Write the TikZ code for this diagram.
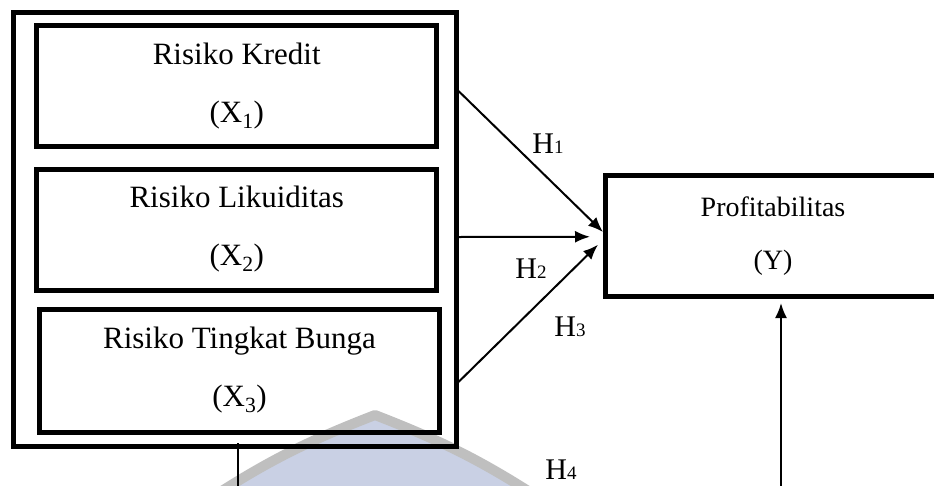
\documentclass[tikz,border=0pt]{standalone}
\usepackage{fontspec}
\setmainfont{Liberation Serif}
\usetikzlibrary{arrows.meta,calc}
\definecolor{wmblue}{HTML}{C9D0E4}
\definecolor{wmgray}{HTML}{BFBFBF}
\newcommand\hsub[1]{{\fontsize{19}{19}\selectfont #1}}
\tikzset{
  varbox/.style={draw, line width=5pt, minimum width=400pt, minimum height=121pt,
    align=center, inner sep=0pt, font=\fontsize{31}{58}\selectfont},
  groupbox/.style={draw, line width=5pt, minimum width=443pt, minimum height=434pt, inner sep=0pt},
  depbox/.style={draw, line width=5pt, minimum width=336pt, minimum height=120.5pt,
    align=center, inner sep=0pt, font=\fontsize{28}{53}\selectfont},
  hyplabel/.style={inner sep=0pt, font=\fontsize{30}{30}\selectfont},
  conn/.style={line width=2pt, -{Latex[length=15pt,width=12pt]}},
  plainline/.style={line width=1.5pt},
}
\begin{document}
\begin{tikzpicture}[x=1pt,y=-1pt]
\useasboundingbox (0,0) rectangle (934,485);
\clip (0,0) rectangle (934,485);
% faint logo mark in the lower half
\filldraw[fill=wmblue, draw=wmgray, line width=10pt, line join=round]
  (375,415) to[bend right=6] (200,505) -- (550,505) to[bend right=6] cycle;

% grouping frame and the three independent variables
\node[groupbox] (outer) at (234.5,229) {};
\node[varbox] (x1) at (236.75,86) {Risiko Kredit\\(X\textsubscript{1})};
\node[varbox] (x2) at (236.75,229.5) {Risiko Likuiditas\\(X\textsubscript{2})};
\node[varbox, minimum height=123pt] (x3) at (239.5,370.5) {Risiko Tingkat Bunga\\(X\textsubscript{3})};

% dependent variable
\node[depbox] (y) at (773,235.75) {Profitabilitas\\(Y)};

% hypothesis arrows
\draw[conn] ($(outer.east)+(0,-138)$) -- ($(y.west)+(0.5,-3.75)$);
\draw[conn] ($(outer.east)+(0,8)$) -- ($(y.west)+(-12.5,1)$);
\draw[conn] ($(outer.east)+(0,153)$) -- ($(y.west)+(-4.5,9)$);

% joint path H4
\coordinate (x3top) at (238,443);
\coordinate (x3bot) at (238,490);
\draw[plainline] (x3top) -- (x3bot);
\coordinate (ybot) at (781,490);
\draw[conn, shorten >=4.5pt] (ybot) -- (ybot |- y.south);

% labels
\node[hyplabel] (h1) at (548,144) {H\hsub{1}};
\node[hyplabel] (h2) at (531,269) {H\hsub{2}};
\node[hyplabel] (h3) at (570,327) {H\hsub{3}};
\node[hyplabel] (h4) at (561,470) {H\hsub{4}};
\end{tikzpicture}
\end{document}
